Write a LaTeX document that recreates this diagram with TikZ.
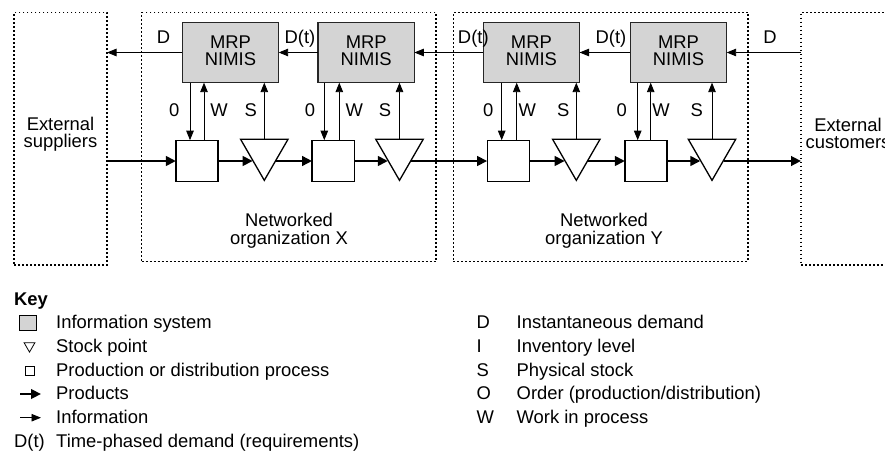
\documentclass[tikz,border=0pt]{standalone}
\usepackage{fontspec}
\setmainfont{Liberation Sans}
\usetikzlibrary{arrows.meta,shapes.geometric,calc}
\definecolor{boxgray}{RGB}{212,212,212}
\begin{document}
\begin{tikzpicture}[x=1pt,y=-1pt,
  font=\fontsize{18.4}{17.3}\selectfont,
  mrp/.style={draw=black!85,line width=1.3pt,fill=boxgray,minimum width=96.3pt,minimum height=60.3pt,inner sep=0pt,outer sep=0pt},
  proc/.style={draw,line width=1.3pt,fill=white,minimum width=42.2pt,minimum height=41.6pt,inner sep=0pt,outer sep=0pt},
  stock/.style={draw,line width=1.3pt,fill=white,regular polygon,regular polygon sides=3,shape border rotate=180,minimum size=54.7pt,inner sep=0pt,outer sep=0pt},
  grp/.style={draw,line width=1.2pt,dash pattern=on 1.8pt off 2.2pt,inner sep=0pt,outer sep=0pt},
  info/.style={line width=0.9pt,-{Triangle[length=9.5pt,width=7.5pt]}},
  prod/.style={line width=2.7pt,-{Triangle[length=10pt,width=9.5pt]}},
  lbl/.style={inner sep=0pt,anchor=base},
  txt/.style={inner sep=0pt,anchor=base west},
  ctxt/.style={inner sep=0pt,anchor=north,align=center},
]
\useasboundingbox (0,0) rectangle (885,452);

% group boxes
\node[grp,minimum width=93pt,minimum height=252.3pt] (sup) at (60.5,138.85) {};
\node[grp,minimum width=294.3pt,minimum height=249pt] (orgX) at (288.85,137) {};
\node[grp,minimum width=294.7pt,minimum height=249pt] (orgY) at (600.65,137) {};
\node[grp,minimum width=93pt,minimum height=252.7pt] (cust) at (847.5,138.65) {};

\node[ctxt] (supt) at (60.5,116.7) {External\\suppliers};
\node[ctxt] (custt) at (848,117.5) {External\\customers};
\node[ctxt] (orgXt) at (289,213.3) {Networked\\organization X};
\node[ctxt] (orgYt) at (604,213.3) {Networked\\organization Y};

\foreach \i/\mx/\sx/\tx/\ox/\wx/\ol/\wl/\sl in {
  1/230.5/197/264.3/190/204/174.3/219/250.7,
  2/366.2/333.2/399.5/324.3/339.3/310/354.3/385,
  3/531.4/508.3/576.3/501.7/516.7/488.3/527.3/563.3,
  4/678.5/646/712/637.7/650.7/621.7/661/696.7} {
  \node[mrp] (m\i) at (\mx,52.5) {};
  \node[inner sep=0pt,align=center] (mt\i) at (\mx,50.5) {MRP\\NIMIS};
  \node[proc] (s\i) at (\sx,161) {};
  \node[stock] (t\i) at (\tx,153) {};
  \coordinate (ox\i) at (\ox,0);
  \coordinate (wx\i) at (\wx,0);
  \coordinate (ti\i) at ($(t\i.center)+(-11.6,8)$);
  \coordinate (to\i) at ($(t\i.center)+(11.6,8)$);
  \draw[info] (m\i.south -| ox\i) -- (s\i.north -| ox\i);
  \draw[info] (s\i.north -| wx\i) -- (m\i.south -| wx\i);
  \draw[info] (t\i.north) -- (m\i.south -| t\i.north);
  \node[lbl] (l0\i) at (\ol,116) {0};
  \node[lbl] (lw\i) at (\wl,116) {W};
  \node[lbl] (ls\i) at (\sl,116) {S};
  \draw[prod] (s\i.east) -- (ti\i);
}

% information flow (demand)
\draw[info] (m1.west) -- (m1.west -| sup.east);
\draw[info] (m2.west) -- (m1.east);
\draw[info] (m3.west) -- (m2.east);
\draw[info] (m4.west) -- (m3.east);
\draw[info] (m4.east -| cust.west) -- (m4.east);
\node[lbl] (d1) at (163.5,43.3) {D};
\node[lbl] (d2) at (300,43.3) {D(t)};
\node[lbl] (d3) at (473.3,43.3) {D(t)};
\node[lbl] (d4) at (611,43.3) {D(t)};
\node[lbl] (d5) at (770,43.3) {D};

% product flow
\draw[prod] (sup.east |- s1.west) -- (s1.west);
\draw[prod] (to1) -- (s2.west);
\draw[prod] (to2) -- (s3.west);
\draw[prod] (to3) -- (s4.west);
\draw[prod] (to4) -- (to4 -| cust.west);

% key
\node[txt,font=\fontsize{18.4}{17.3}\selectfont\bfseries] (key) at (14,305) {Key};
\node[draw,line width=1pt,fill=boxgray,minimum width=17.5pt,minimum height=15.5pt,inner sep=0pt] (k1) at (28,323) {};
\node[draw,line width=0.8pt,regular polygon,regular polygon sides=3,shape border rotate=180,minimum size=12.6pt,inner sep=0pt] (k2) at (29.5,345.8) {};
\node[draw,line width=0.9pt,minimum size=9pt,inner sep=0pt] (k3) at (30,371) {};
\coordinate (kp1) at (20,394);
\coordinate (kp2) at (41,394);
\draw[prod,line width=2.4pt] (kp1) -- (kp2);
\coordinate (ki1) at (20,417.7);
\coordinate (ki2) at (41,417.7);
\draw[info] (ki1) -- (ki2);
\node[txt] (kt1) at (56,328.5) {Information system};
\node[txt] (kt2) at (56,352.3) {Stock point};
\node[txt] (kt3) at (56,376.1) {Production or distribution process};
\node[txt] (kt4) at (56,399.9) {Products};
\node[txt] (kt5) at (56,423.7) {Information};
\node[txt] (kd6) at (14,447.5) {D(t)};
\node[txt] (kt6) at (56,447.5) {Time-phased demand (requirements)};

\node[txt] (rl1) at (476.5,328.5) {D};
\node[txt] (rl2) at (476.5,352.3) {I};
\node[txt] (rl3) at (476.5,376.1) {S};
\node[txt] (rl4) at (476.5,399.9) {O};
\node[txt] (rl5) at (476.5,423.7) {W};
\node[txt] (rt1) at (516.5,328.5) {Instantaneous demand};
\node[txt] (rt2) at (516.5,352.3) {Inventory level};
\node[txt] (rt3) at (516.5,376.1) {Physical stock};
\node[txt] (rt4) at (516.5,399.9) {Order (production/distribution)};
\node[txt] (rt5) at (516.5,423.7) {Work in process};
\end{tikzpicture}
\end{document}
